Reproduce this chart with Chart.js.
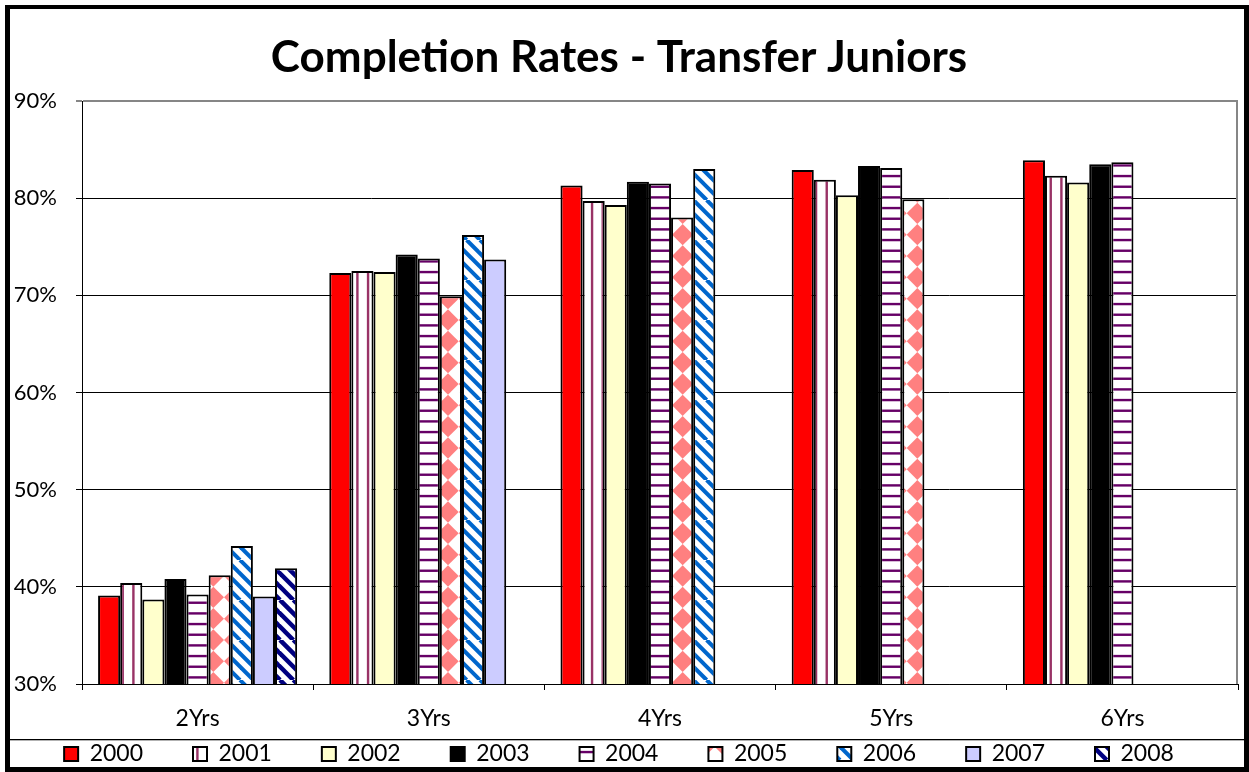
<!DOCTYPE html>
<html>
<head>
<meta charset="utf-8">
<title>Completion Rates - Transfer Juniors</title>
<script src="https://cdn.jsdelivr.net/npm/chart.js@4/dist/chart.umd.min.js"></script>
<style>
  html, body { margin: 0; padding: 0; background: #fff; }
  canvas { display: block; }
</style>
</head>
<body>
<canvas id="chart" width="1249" height="772"></canvas>
<script>
const categories = ['2Yrs', '3Yrs', '4Yrs', '5Yrs', '6Yrs'];
const years = ['2000', '2001', '2002', '2003', '2004', '2005', '2006', '2007', '2008'];

// completion rate (%) per cohort year, one value per category
const rates2000 = [39.1, 72.3, 81.3, 82.9, 83.9];
const rates2001 = [40.4, 72.5, 79.7, 81.9, 82.3];
const rates2002 = [38.7, 72.4, 79.3, 80.3, 81.6];
const rates2003 = [40.8, 74.2, 81.7, 83.3, 83.5];
const rates2004 = [39.2, 73.8, 81.5, 83.1, 83.7];
const rates2005 = [41.2, 69.9, 78.0, 79.9, null];
const rates2006 = [44.2, 76.2, 83.0, null, null];
const rates2007 = [39.0, 73.7, null, null, null];
const rates2008 = [41.9, null, null, null, null];

const yMin = 30;
const yMax = 90;
const yStep = 10;

const canvas = document.getElementById('chart');
const ctx = canvas.getContext('2d');

// small tiles used as Excel-like pattern fills
function tile(size, draw) {
  const c = document.createElement('canvas');
  c.width = size;
  c.height = size;
  const g = c.getContext('2d');
  g.fillStyle = '#fff';
  g.fillRect(0, 0, size, size);
  draw(g, size);
  return ctx.createPattern(c, 'repeat');
}

const vStripes = tile(32, (g, s) => {
  g.fillStyle = '#993366';
  for (let i = 0; i < 3; i++) g.fillRect(i * s / 3 + 4.2, 0, 2.4, s);
});
const hStripes = tile(32, (g, s) => {
  g.fillStyle = '#660066';
  for (let i = 0; i < 3; i++) g.fillRect(0, i * s / 3 + 4.2, s, 2.4);
});
const diamonds = tile(64, (g, s) => {
  const d = s / 3;
  g.fillStyle = '#ff8080';
  for (let i = -1; i <= 3; i++) {
    for (let j = -1; j <= 3; j++) {
      const cx = i * d, cy = j * d;
      g.beginPath();
      g.moveTo(cx, cy - d / 2);
      g.lineTo(cx + d / 2, cy);
      g.lineTo(cx, cy + d / 2);
      g.lineTo(cx - d / 2, cy);
      g.closePath();
      g.fill();
    }
  }
});
function diagonal(color, width) {
  return tile(40, (g, s) => {
    const p = s / 3;
    g.strokeStyle = color;
    g.lineWidth = width;
    for (let k = -1; k <= 7; k++) {
      const x0 = k * p - s;
      g.beginPath();
      g.moveTo(x0, 0);
      g.lineTo(x0 + s, s);
      g.stroke();
    }
  });
}

const fills = ['#ff0000', vStripes, '#ffffcc', '#000000', hStripes, diamonds,
  diagonal('#0066cc', 4), '#ccccff', diagonal('#000080', 4.5)];
const series = [rates2000, rates2001, rates2002, rates2003, rates2004,
  rates2005, rates2006, rates2007, rates2008];

const legendPad = 50;

const framePlugin = {
  id: 'frame',
  afterLayout(chart) {
    // put the legend row inside the boxed strip at the bottom
    const lg = chart.legend;
    lg.top = 742.5 - legendPad;
    lg.bottom = chart.height;
    lg.height = lg.bottom - lg.top;
  },
  beforeDraw(chart) {
    const c = chart.ctx;
    c.save();
    c.fillStyle = '#fff';
    c.fillRect(0, 0, chart.width, chart.height);
    c.restore();
  },
  afterDraw(chart) {
    const c = chart.ctx;
    const a = chart.chartArea;
    c.save();
    c.strokeStyle = '#868686';
    c.lineWidth = 2;
    c.beginPath();
    c.moveTo(a.right - 1, a.top);
    c.lineTo(a.right - 1, a.bottom);
    c.stroke();
    c.fillStyle = '#000';
    c.fillRect(5, 5, 1244, 4);
    c.fillRect(5, 5, 5, 767);
    c.fillRect(1244, 5, 5, 767);
    c.fillRect(5, 767, 1244, 5);
    c.fillRect(10, 739, 1234, 1.3);
    c.restore();
  }
};

new Chart(ctx, {
  type: 'bar',
  data: {
    labels: categories,
    datasets: years.map((y, i) => ({
      label: y,
      data: series[i],
      backgroundColor: fills[i],
      borderColor: '#000',
      borderWidth: 2,
      borderSkipped: false,
      categoryPercentage: 0.861,
      barPercentage: 1
    }))
  },
  options: {
    responsive: false,
    animation: false,
    devicePixelRatio: 1,
    layout: { padding: { left: 0, right: 11, top: 0, bottom: 0 } },
    plugins: {
      title: {
        display: true,
        text: 'Completion Rates - Transfer Juniors',
        color: '#000',
        font: { family: 'Lato', size: 44, weight: 'bold' },
        padding: { top: 31.6, bottom: 16.6 }
      },
      legend: {
        position: 'bottom',
        maxHeight: 2,
        labels: {
          color: '#000',
          font: { family: 'Lato', size: 23 },
          boxWidth: 14,
          boxHeight: 14,
          padding: legendPad
        }
      },
      tooltip: { enabled: false }
    },
    scales: {
      x: {
        offset: true,
        grid: { offset: true, drawOnChartArea: false, drawTicks: true, tickLength: 6, color: '#000' },
        border: { color: '#000', width: 1 },
        ticks: { color: '#000', font: { family: 'Lato', size: 23 }, padding: 15 },
        afterFit(scale) { scale.height = 86; }
      },
      y: {
        min: yMin,
        max: yMax,
        ticks: {
          stepSize: yStep,
          color: '#000',
          font: { family: 'Lato', size: 22 },
          padding: 19,
          callback: v => v + '%'
        },
        grid: {
          tickLength: 6,
          color: c => c.tick && c.tick.value === yMax ? '#868686' : '#000',
          lineWidth: c => c.tick && c.tick.value === yMax ? 2 : 1
        },
        border: { color: '#000', width: 1 },
        afterFit(scale) { scale.width = 82; }
      }
    }
  },
  plugins: [framePlugin]
});
</script>
</body>
</html>
